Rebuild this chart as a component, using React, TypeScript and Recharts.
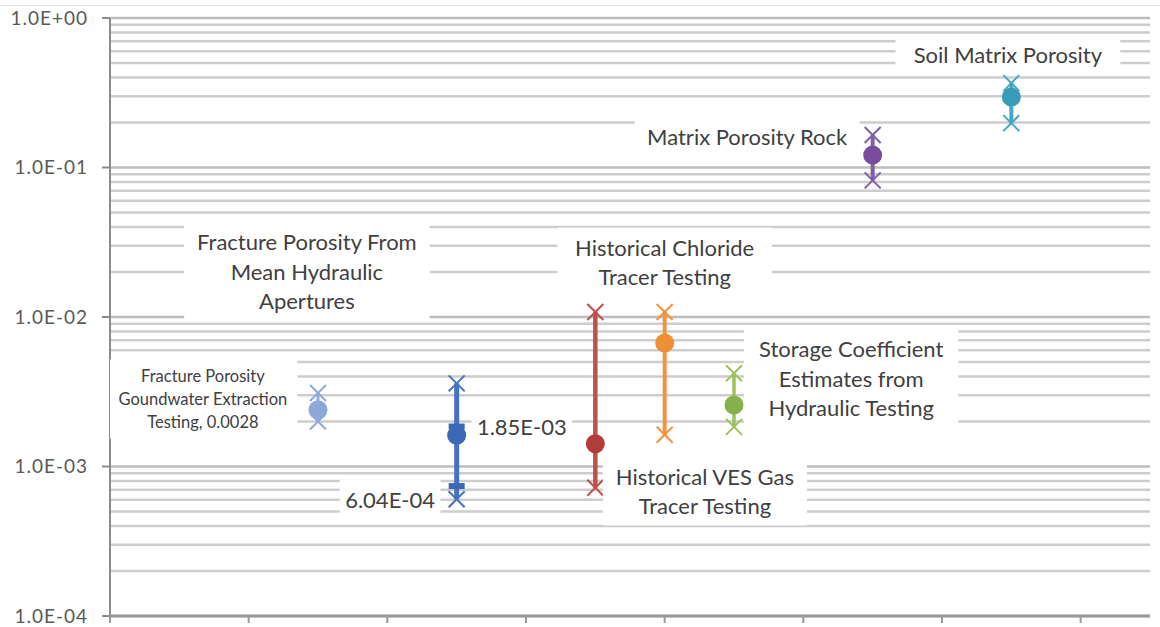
import { ScatterChart, Scatter, XAxis, YAxis, ReferenceLine } from "recharts";

// porosity estimates, one column per method
const seriesNames = [
  "Fracture Porosity Groundwater Extraction Testing",
  "Fracture Porosity From Mean Hydraulic Apertures",
  "Historical VES Gas Tracer Testing",
  "Historical Chloride Tracer Testing",
  "Storage Coefficient Estimates",
  "Matrix Porosity Rock",
  "Soil Matrix Porosity",
];
const seriesX = [3, 5, 7, 8, 9, 11, 13];
const lowValues = [0.002, 6.04e-4, 7.2e-4, 1.63e-3, 1.84e-3, 0.082, 0.198];
const midValues = [0.0024, 1.62e-3, 1.42e-3, 6.7e-3, 2.58e-3, 0.121, 0.296];
const highValues = [0.0031, 3.6e-3, 1.08e-2, 1.08e-2, 4.2e-3, 0.165, 0.367];
const lineColors = ["#8FA8DC", "#4472C4", "#C0504D", "#F0953E", "#9BC25B", "#8060A8", "#45A7C2"];
const dotColors = ["#8FA8DC", "#3D68B8", "#B23C3A", "#EE8F36", "#86B04A", "#7A4CA0", "#3A9BB8"];
const lineWidths = [3, 5, 4.5, 4, 3.5, 4, 4];

// extra aperture estimates on the blue column
const apertureValues = [7.4e-4, 1.85e-3];

const yTicks = [1e-4, 1e-3, 1e-2, 1e-1, 1];
const xTicks = [0, 2, 4, 6, 8, 10, 12, 14];
const minorSteps = [2, 3, 4, 5, 6, 7, 8, 9];

// text boxes placed in data units
const noteText = [
  "Soil Matrix Porosity",
  "Matrix Porosity Rock",
  "Fracture Porosity From\nMean Hydraulic\nApertures",
  "Historical Chloride\nTracer Testing",
  "Storage Coefficient\nEstimates from\nHydraulic Testing",
  "Fracture Porosity\nGoundwater Extraction\nTesting, 0.0028",
  "1.85E-03",
  "6.04E-04",
  "Historical VES Gas\nTracer Testing",
];
const noteX = [12.95, 9.19, 2.84, 8.0, 10.69, 1.34, 5.94, 4.04, 8.58];
const noteY = [0.574, 0.16, 0.0203, 0.0233, 3.9e-3, 2.83e-3, 1.85e-3, 6.04e-4, 6.86e-4];
const noteSmall = [false, false, false, false, false, true, false, false, false];

const FONT = "Lato, 'Open Sans', sans-serif";

const gridValues: number[] = [];
for (const d of [1e-4, 1e-3, 1e-2, 1e-1]) {
  gridValues.push(d);
  minorSteps.forEach((m) => gridValues.push(+(d * m).toPrecision(3)));
}
gridValues.push(1);

const fmtExp = (v: number) => {
  const e = Math.round(Math.log10(v));
  return `1.0E${e >= 0 ? "+" : "-"}${String(Math.abs(e)).padStart(2, "0")}`;
};

function Marker(props: any) {
  const { cx, cy, payload, color, dot } = props;
  if (cx == null || cy == null) return null;
  if (payload.kind === "x") {
    return (
      <g stroke={color} strokeWidth={2}>
        <line x1={cx - 8} y1={cy - 8} x2={cx + 8} y2={cy + 8} />
        <line x1={cx - 8} y1={cy + 8} x2={cx + 8} y2={cy - 8} />
      </g>
    );
  }
  return <circle cx={cx} cy={cy} r={9.5} fill={dot} />;
}

function Dash(props: any) {
  const { cx, cy } = props;
  if (cx == null || cy == null) return null;
  return <rect x={cx - 8} y={cy - 3} width={16} height={6} fill="#3D68B8" />;
}

function Note(props: any) {
  const { cx, cy, payload } = props;
  if (cx == null || cy == null) return null;
  const lines: string[] = payload.text.split("\n");
  const fs = payload.small ? 16.5 : 22;
  const lh = payload.small ? 23 : 29.5;
  const maxLen = Math.max(...lines.map((l) => l.length));
  const w = maxLen * fs * 0.47 + (payload.small ? 26 : 18);
  const h = lines.length * lh + 10;
  const top = cy - (lines.length * lh) / 2;
  return (
    <g>
      <rect x={cx - w / 2} y={cy - h / 2} width={w} height={h} fill="#ffffff" />
      {lines.map((l, i) => (
        <text
          key={i}
          x={cx}
          y={top + lh * i + lh / 2}
          textAnchor="middle"
          dominantBaseline="central"
          fontSize={fs}
          fontFamily={FONT}
          fill="#404040"
        >
          {l}
        </text>
      ))}
    </g>
  );
}

export default function App() {
  const notes = noteText.map((t, i) => ({ x: noteX[i], y: noteY[i], text: t, small: noteSmall[i] }));
  return (
    <div style={{ position: "absolute", left: 0, top: 0, width: 1160, height: 627, background: "#fff" }}>
      <div style={{ position: "absolute", left: 0, top: 5, width: 1160, height: 1, background: "#e2e2e2" }} />
      <ScatterChart width={1160} height={627} margin={{ top: 18, right: 10, bottom: 3, left: 0 }}>
        <XAxis
          type="number"
          dataKey="x"
          domain={[0, 15]}
          ticks={xTicks}
          allowDataOverflow
          height={8}
          tickSize={7}
          tickFormatter={() => ""}
          axisLine={{ stroke: "#9a9a9a", strokeWidth: 3 }}
          tickLine={{ stroke: "#9a9a9a", strokeWidth: 2 }}
        />
        <YAxis
          type="number"
          dataKey="y"
          scale="log"
          domain={[1e-4, 1]}
          ticks={yTicks}
          allowDataOverflow
          width={110}
          tickSize={8}
          tickMargin={14}
          tickFormatter={fmtExp}
          tick={{ fill: "#595959", fontSize: 19, fontFamily: FONT, letterSpacing: 1 }}
          axisLine={false}
          tickLine={{ stroke: "#8c8c8c", strokeWidth: 2 }}
        />
        {gridValues.map((v) => (
          <ReferenceLine
            key={v}
            y={v}
            stroke={yTicks.includes(v) ? "#bdbdbd" : "#cdcdcd"}
            strokeWidth={2.5}
          />
        ))}
        <ReferenceLine x={0} stroke="#8c8c8c" strokeWidth={2} />
        {seriesNames.map((name, i) => (
          <Scatter
            key={name}
            name={name}
            data={[
              { x: seriesX[i], y: lowValues[i], kind: "x" },
              { x: seriesX[i], y: midValues[i], kind: "dot" },
              { x: seriesX[i], y: highValues[i], kind: "x" },
            ]}
            line={{ stroke: lineColors[i], strokeWidth: lineWidths[i] }}
            lineType="joint"
            shape={(p: any) => <Marker {...p} color={lineColors[i]} dot={dotColors[i]} />}
            isAnimationActive={false}
          />
        ))}
        <Scatter
          name="Aperture estimates"
          data={apertureValues.map((v) => ({ x: seriesX[1], y: v }))}
          shape={(p: any) => <Dash {...p} />}
          isAnimationActive={false}
        />
        <Scatter
          name="notes"
          data={notes}
          shape={(p: any) => <Note {...p} />}
          isAnimationActive={false}
        />
      </ScatterChart>
    </div>
  );
}
